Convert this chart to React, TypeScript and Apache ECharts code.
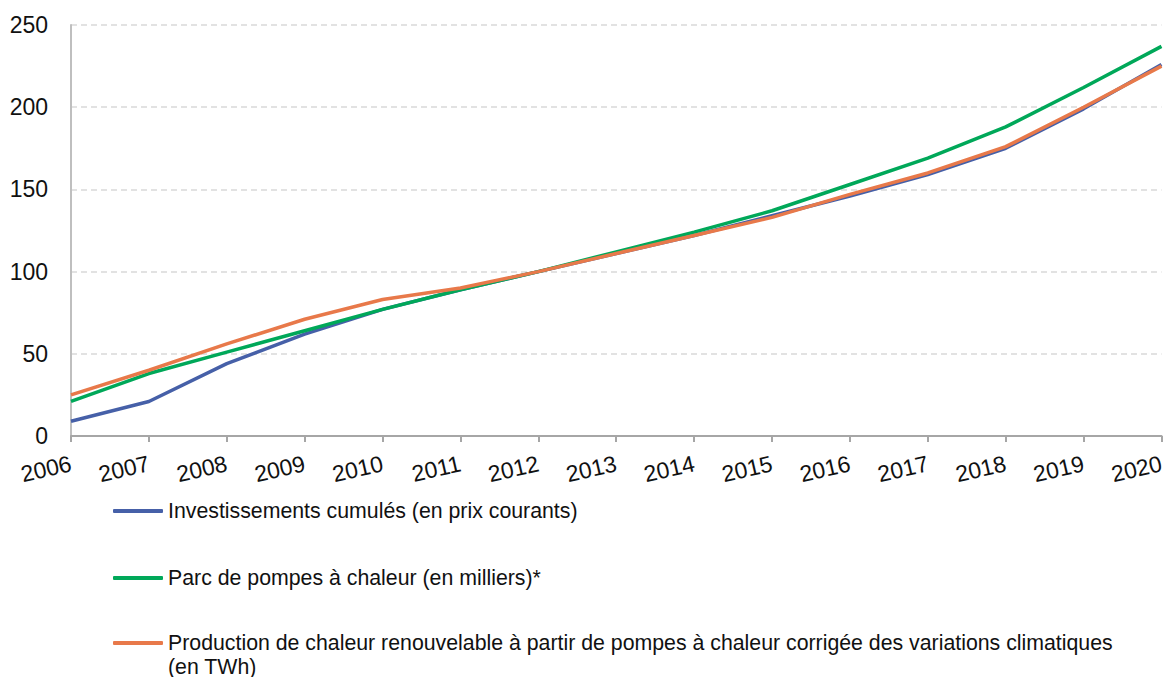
import React, { useEffect, useRef } from "react";
import * as echarts from "echarts";

const years = ["2006", "2007", "2008", "2009", "2010", "2011", "2012", "2013", "2014", "2015", "2016", "2017", "2018", "2019", "2020"];
const investissements = [9, 21, 44, 62, 77, 89, 100, 111, 122, 134, 146, 159, 175, 199, 226];
const parc = [21, 38, 51, 64, 77, 89, 100, 112, 124, 137, 153, 169, 188, 212, 237];
const production = [25, 40, 56, 71, 83, 90, 100, 111, 122, 133, 147, 160, 176, 200, 225];

const nameInv = "Investissements cumulés (en prix courants)";
const nameParc = "Parc de pompes à chaleur (en milliers)*";
const nameProd = "Production de chaleur renouvelable à partir de pompes à chaleur corrigée des variations climatiques (en TWh)";
const prodLine1 = "Production de chaleur renouvelable à partir de pompes à chaleur corrigée des variations climatiques";
const prodLine2 = "(en TWh)";

const FONT = "'Liberation Sans', Arial, sans-serif";
const TEXT = "#111111";
const BLUE = "#4660A8";
const GREEN = "#00A859";
const ORANGE = "#E8794A";

export default function App() {
  const ref = useRef<HTMLDivElement>(null);
  useEffect(() => {
    document.body.style.margin = "0";
    const chart = echarts.init(ref.current!, null, { renderer: "svg" });
    const legendBase = {
      orient: "vertical",
      left: 113,
      padding: 0,
      icon: "roundRect",
      itemWidth: 50,
      itemHeight: 4,
      selectedMode: false,
      textStyle: { fontFamily: FONT, fontSize: 21.3, color: TEXT, lineHeight: 24 },
    };
    chart.setOption({
      animation: false,
      textStyle: { fontFamily: FONT },
      grid: { left: 71, right: 4, top: 25, bottom: 241, containLabel: false },
      xAxis: {
        type: "category",
        data: years,
        boundaryGap: false,
        axisLine: { show: true, lineStyle: { color: "#A6A6A6", width: 2 } },
        axisTick: { show: true, length: 6, lineStyle: { color: "#A6A6A6", width: 2 } },
        axisLabel: { rotate: 13, margin: 27, fontSize: 23, color: TEXT, fontFamily: FONT, interval: 0 },
        splitLine: { show: false },
      },
      yAxis: {
        type: "value",
        min: 0,
        max: 250,
        interval: 50,
        axisLine: { show: true, lineStyle: { color: "#BFBFBF", width: 2 } },
        axisTick: { show: false },
        axisLabel: { margin: 23, fontSize: 23, color: TEXT, fontFamily: FONT },
        splitLine: { show: true, lineStyle: { color: "#D9D9D9", type: [6, 4], width: 1.5 } },
      },
      legend: [
        { ...legendBase, top: 499, data: [nameInv] },
        { ...legendBase, top: 566, data: [nameParc] },
        { ...legendBase, top: 631, data: [nameProd], formatter: () => prodLine1 },
      ],
      graphic: [
        {
          type: "text",
          left: 168,
          top: 656,
          style: { text: prodLine2, fontFamily: FONT, fontSize: 21.3, fill: TEXT },
        },
      ],
      series: [
        { name: nameInv, type: "line", data: investissements, symbol: "none", lineStyle: { color: BLUE, width: 3.5 }, itemStyle: { color: BLUE } },
        { name: nameParc, type: "line", data: parc, symbol: "none", lineStyle: { color: GREEN, width: 3.5 }, itemStyle: { color: GREEN } },
        { name: nameProd, type: "line", data: production, symbol: "none", lineStyle: { color: ORANGE, width: 3.5 }, itemStyle: { color: ORANGE } },
      ],
    });
    return () => chart.dispose();
  }, []);
  return <div ref={ref} style={{ position: "absolute", left: 0, top: 0, width: 1167, height: 677 }} />;
}
